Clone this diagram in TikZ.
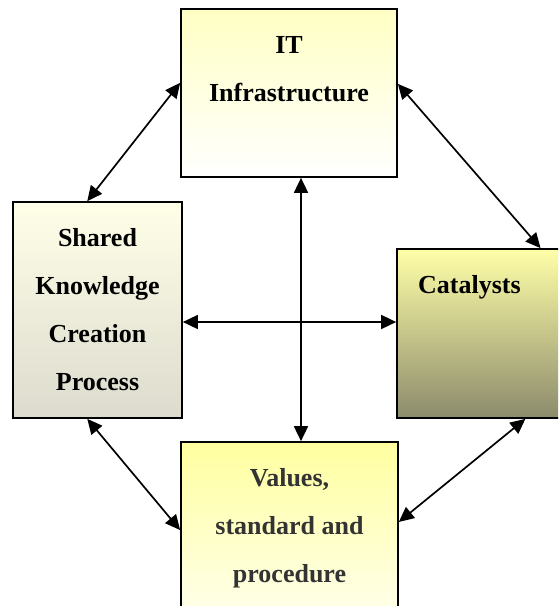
\documentclass[tikz,border=0pt]{standalone}
\usepackage{fontspec}
\setmainfont{Liberation Serif}
\usetikzlibrary{arrows.meta,calc}
\definecolor{itTop}{RGB}{255,255,196}
\definecolor{shTop}{RGB}{255,255,232}
\definecolor{shBot}{RGB}{220,219,206}
\definecolor{caTop}{RGB}{255,255,168}
\definecolor{caMid}{RGB}{222,218,148}
\definecolor{caBot}{RGB}{140,139,108}
\definecolor{vaTop}{RGB}{255,255,160}
\definecolor{vaBot}{RGB}{255,255,232}
\definecolor{vaText}{RGB}{51,51,51}
\begin{document}
\begin{tikzpicture}[x=1pt,y=-1pt,
  box/.style={draw=black,line width=1.7pt,rectangle,inner sep=0pt},
  lbl/.style={font=\fontsize{26}{48}\selectfont\bfseries,align=center,inner sep=0pt},
  link/.style={line width=1.7pt,{Triangle[length=15pt,width=14pt]}-{Triangle[length=15pt,width=14pt]}}]
\clip (0,0) rectangle (558,606);
% boxes
\node[box,minimum width=216pt,minimum height=168pt,top color=itTop,bottom color=white] (it) at (289,93) {};
\node[box,minimum width=169pt,minimum height=216pt,top color=shTop,bottom color=shBot] (shared) at (97.5,310) {};
\node[box,minimum width=169pt,minimum height=169pt,top color=caTop,middle color=caMid,bottom color=caBot] (cat) at (481.5,333.5) {};
\node[box,minimum width=217pt,minimum height=168pt,top color=vaTop,bottom color=vaBot] (val) at (289.5,526) {};
% labels
\node[lbl] (itlbl) at (289,69.4) {IT\\Infrastructure};
\node[lbl] (shlbl) at (97.5,309.7) {Shared\\Knowledge\\Creation\\Process};
\node[lbl,anchor=base west] (calbl) at (418,293) {Catalysts};
\node[lbl,text=vaText] (valbl) at (289.5,528.5) {Values,\\standard and\\procedure};
% connectors
\draw[link] ($(shared.north west)!0.44!(shared.north east)$) -- ($(it.north west)!0.44!(it.south west)$);
\draw[link] ($(it.north east)!0.446!(it.south east)$) -- ($(cat.north west)!0.846!(cat.north east)$);
\draw[link] ($(cat.south west)!0.757!(cat.south east)$) -- ($(val.north east)!0.476!(val.south east)$);
\draw[link] ($(shared.south west)!0.44!(shared.south east)$) -- ($(val.north west)!0.524!(val.south west)$);
\draw[link] ($(it.south)+(12,0)$) -- ($(val.north)+(11.5,0)$);
\draw[link] ($(shared.east)+(0,12)$) -- ($(cat.west)+(0,-11.5)$);
\end{tikzpicture}
\end{document}
